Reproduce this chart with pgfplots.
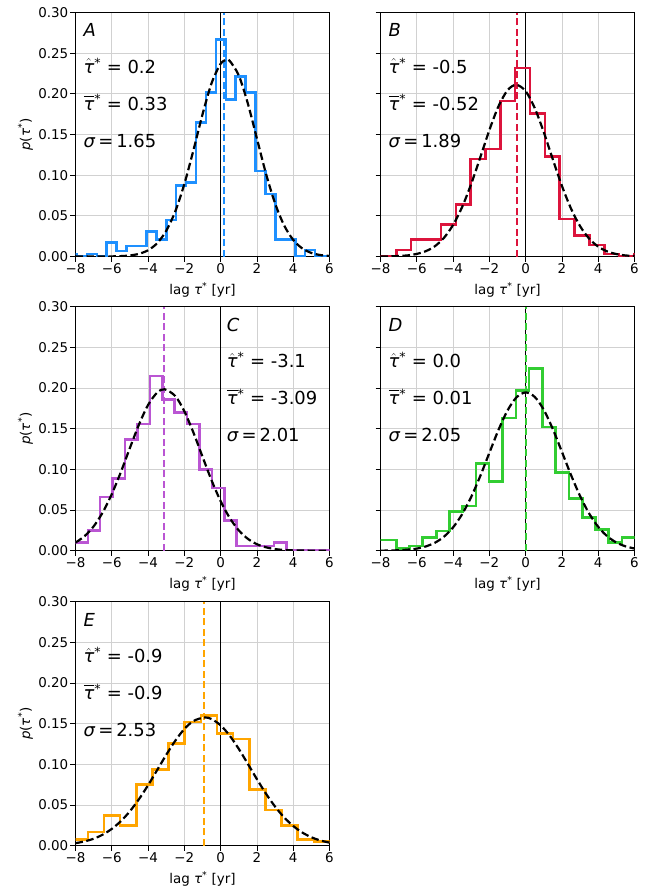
\documentclass[border=0pt]{standalone}
\usepackage{fontspec}
\setmainfont{DejaVu Sans}
\usepackage{pgfplots}
\pgfplotsset{compat=1.18}

\definecolor{cA}{RGB}{30,144,255}
\definecolor{cB}{RGB}{220,20,60}
\definecolor{cC}{RGB}{186,85,211}
\definecolor{cD}{RGB}{50,205,50}
\definecolor{cE}{RGB}{255,165,0}

\newcommand{\tickfont}{\fontsize{13.5}{15}\selectfont}
\newcommand{\annfont}{\fontsize{18}{20}\selectfont}
\newcommand{\tauit}{\textit{τ}}
\newcommand{\that}{$\hat{\mbox{\tauit}}$\textsuperscript{*}}
\newcommand{\tbar}{\makebox[0pt][l]{\hspace{0.02em}\rule[0.74em]{0.58em}{0.065em}}\tauit\textsuperscript{*}}

\tikzset{ann/.style={anchor=base west, inner sep=0pt, font=\annfont}}

\pgfplotsset{
 panel/.style={
  scale only axis, width=254bp, height=244bp, anchor=north west,
  xmin=-8, xmax=6, ymin=0, ymax=0.3,
  xtick={-8,-6,-4,-2,0,2,4,6},
  xticklabels={−8,−6,−4,−2,0,2,4,6},
  ytick={0,0.05,0.1,0.15,0.2,0.25,0.3},
  yticklabels={0.00,0.05,0.10,0.15,0.20,0.25,0.30},
  tick align=outside, tick pos=left,
  major tick length=5bp,
  every tick/.style={black, line width=0.8bp},
  grid=major, major grid style={line width=0.8bp, color=black!18},
  axis line style={line width=0.9bp},
  tick label style={font=\tickfont, inner sep=2bp},
  xlabel={lag \tauit\textsuperscript{*}\ [yr]},
  every axis x label/.style={at={(axis description cs:0.5,-0.137)}, anchor=center, font=\tickfont},
  every axis y label/.style={at={(axis description cs:-0.197,0.5)}, rotate=90, anchor=center, font=\tickfont},
 },
 hist/.style={const plot, line width=2.6bp, no marks},
 gauss/.style={smooth, black, line width=2.2bp, dash pattern=on 7.5bp off 3.5bp, no marks},
 vzero/.style={black, line width=1.3bp, no marks},
 vdash/.style={line width=2.1bp, dash pattern=on 7bp off 3.5bp, no marks},
}

\begin{document}
\begin{tikzpicture}
\path[use as bounding box] (0,0) rectangle (660bp,-892bp);

% ---------------- A ----------------
\begin{axis}[panel, at={(75.5bp,-12.5bp)}, ylabel={\textit{p}(\tauit\textsuperscript{*})}]
\addplot[vzero] coordinates {(0,0) (0,0.3)};
\addplot[hist, cA] coordinates {(-8.46,0.003) (-7.92,0) (-7.37,0.003) (-6.82,0) (-6.28,0.017) (-5.73,0.007) (-5.18,0.013) (-4.63,0.013) (-4.09,0.031) (-3.54,0.021) (-2.99,0.045) (-2.45,0.087) (-1.90,0.091) (-1.35,0.165) (-0.81,0.202) (-0.26,0.267) (0.29,0.193) (0.83,0.221) (1.38,0.202) (1.93,0.105) (2.47,0.077) (3.02,0.021) (3.57,0.021) (4.11,0) (4.66,0.008) (5.21,0) (5.75,0) (6.3,0)};
\addplot[vdash, cA] coordinates {(0.2,0) (0.2,0.3)};
\addplot[gauss] coordinates {(-8,0) (-7.5,0) (-7,0.00001) (-6.5,0.00005) (-6,0.00015) (-5.5,0.00047) (-5,0.0013) (-4.5,0.0033) (-4,0.0077) (-3.5,0.0163) (-3,0.0316) (-2.5,0.0555) (-2,0.0892) (-1.5,0.1307) (-1,0.1747) (-0.5,0.2131) (0,0.2370) (0.33,0.2418) (0.5,0.2405) (1,0.2227) (1.5,0.1880) (2,0.1449) (2.5,0.1018) (3,0.0653) (3.5,0.0382) (4,0.0204) (4.5,0.0099) (5,0.0044) (5.5,0.0018) (6,0.0007)};
\node[ann] at (axis cs:-7.57,0.270) {\textit{A}};
\node[ann] at (axis cs:-7.57,0.2253) {\that\ = 0.2};
\node[ann] at (axis cs:-7.57,0.180) {\tbar\ = 0.33};
\node[ann] at (axis cs:-7.57,0.1338) {\textit{σ}\,=\,1.65};
\end{axis}

% ---------------- B ----------------
\begin{axis}[panel, at={(380.5bp,-12.5bp)}, yticklabels={}]
\addplot[vzero] coordinates {(0,0) (0,0.3)};
\addplot[hist, cB] coordinates {(-8.77,0) (-7.95,0) (-7.13,0.008) (-6.31,0.021) (-5.49,0.021) (-4.67,0.039) (-3.85,0.064) (-3.04,0.120) (-2.22,0.132) (-1.40,0.191) (-0.58,0.232) (0.24,0.176) (1.06,0.123) (1.88,0.046) (2.70,0.026) (3.52,0.014) (4.33,0.003) (5.15,0) (5.97,0.003) (6.79,0.003)};
\addplot[vdash, cB] coordinates {(-0.5,0) (-0.5,0.3)};
\addplot[gauss] coordinates {(-8,0.0001) (-7.5,0.0002) (-7,0.0006) (-6.5,0.0014) (-6,0.0032) (-5.5,0.0066) (-5,0.0127) (-4.5,0.0230) (-4,0.0388) (-3.5,0.0609) (-3,0.0893) (-2.5,0.1220) (-2,0.1554) (-1.5,0.1846) (-1,0.2044) (-0.52,0.2111) (0,0.2033) (0.5,0.1825) (1,0.1528) (1.5,0.1192) (2,0.0868) (2.5,0.0589) (3,0.0373) (3.5,0.0220) (4,0.0121) (4.5,0.0062) (5,0.0030) (5.5,0.0013) (6,0.0006)};
\node[ann] at (axis cs:-7.57,0.270) {\textit{B}};
\node[ann] at (axis cs:-7.57,0.2253) {\that\ = -0.5};
\node[ann] at (axis cs:-7.57,0.180) {\tbar\ = -0.52};
\node[ann] at (axis cs:-7.57,0.1338) {\textit{σ}\,=\,1.89};
\end{axis}

% ---------------- C ----------------
\begin{axis}[panel, at={(75.5bp,-306.7bp)}, ylabel={\textit{p}(\tauit\textsuperscript{*})}]
\addplot[vzero] coordinates {(0,0) (0,0.3)};
\addplot[hist, cC] coordinates {(-8.6,0.010) (-7.32,0.025) (-6.64,0.066) (-5.95,0.089) (-5.27,0.137) (-4.58,0.156) (-3.90,0.215) (-3.19,0.186) (-2.53,0.170) (-1.85,0.156) (-1.16,0.100) (-0.48,0.077) (0.20,0.037) (0.89,0.006) (1.57,0.006) (2.26,0.006) (2.94,0.010) (3.62,0) (6.5,0)};
\addplot[vdash, cC] coordinates {(-3.1,0) (-3.1,0.3)};
\addplot[gauss] coordinates {(-8,0.0100) (-7.5,0.0179) (-7,0.0299) (-6.5,0.0471) (-6,0.0696) (-5.5,0.0967) (-5,0.1264) (-4.5,0.1552) (-4,0.1792) (-3.5,0.1944) (-3.09,0.1985) (-2.5,0.1901) (-2,0.1714) (-1.5,0.1452) (-1,0.1156) (-0.5,0.0865) (0,0.0609) (0.5,0.0403) (1,0.0250) (1.5,0.0146) (2,0.0080) (2.5,0.0042) (3,0.0020) (3.5,0.0009) (4,0.0004) (4.5,0.0002) (5,0.0001) (5.5,0) (6,0)};
\node[ann] at (axis cs:0.33,0.270) {\textit{C}};
\node[ann] at (axis cs:0.33,0.2253) {\that\ = -3.1};
\node[ann] at (axis cs:0.33,0.180) {\tbar\ = -3.09};
\node[ann] at (axis cs:0.33,0.1338) {\textit{σ}\,=\,2.01};
\end{axis}

% ---------------- D ----------------
\begin{axis}[panel, at={(380.5bp,-306.7bp)}, yticklabels={}]
\addplot[vzero] coordinates {(0,0) (0,0.3)};
\addplot[hist, cD] coordinates {(-8.6,0.013) (-7.13,0.003) (-6.40,0.006) (-5.67,0.016) (-4.93,0.024) (-4.20,0.048) (-3.47,0.055) (-2.74,0.107) (-2.01,0.085) (-1.27,0.163) (-0.54,0.197) (0.19,0.224) (0.92,0.152) (1.65,0.096) (2.39,0.064) (3.12,0.041) (3.85,0.026) (4.58,0.010) (5.31,0.016) (6.5,0.016)};
\addplot[vdash, cD] coordinates {(0,0) (0,0.3)};
\addplot[gauss] coordinates {(-8,0.0001) (-7.5,0.0002) (-7,0.0006) (-6.5,0.0013) (-6,0.0026) (-5.5,0.0053) (-5,0.0098) (-4.5,0.0173) (-4,0.0287) (-3.5,0.0449) (-3,0.0662) (-2.5,0.0919) (-2,0.1203) (-1.5,0.1484) (-1,0.1724) (-0.5,0.1887) (0,0.1946) (0.5,0.1891) (1,0.1732) (1.5,0.1494) (2,0.1215) (2.5,0.0931) (3,0.0672) (3.5,0.0457) (4,0.0293) (4.5,0.0177) (5,0.0101) (5.5,0.0054) (6,0.0027)};
\node[ann] at (axis cs:-7.57,0.270) {\textit{D}};
\node[ann] at (axis cs:-7.57,0.2253) {\that\ = 0.0};
\node[ann] at (axis cs:-7.57,0.180) {\tbar\ = 0.01};
\node[ann] at (axis cs:-7.57,0.1338) {\textit{σ}\,=\,2.05};
\end{axis}

% ---------------- E ----------------
\begin{axis}[panel, at={(75.5bp,-601.7bp)}, ylabel={\textit{p}(\tauit\textsuperscript{*})}]
\addplot[vzero] coordinates {(0,0) (0,0.3)};
\addplot[hist, cE] coordinates {(-8.6,0.008) (-7.32,0.017) (-6.43,0.037) (-5.54,0.025) (-4.65,0.075) (-3.76,0.094) (-2.87,0.126) (-1.98,0.152) (-1.09,0.160) (-0.20,0.138) (0.69,0.131) (1.58,0.069) (2.47,0.044) (3.36,0.025) (4.25,0.008) (5.14,0.005) (6.5,0.005)};
\addplot[vdash, cE] coordinates {(-0.9,0) (-0.9,0.3)};
\addplot[gauss] coordinates {(-8,0.0031) (-7.5,0.0053) (-7,0.0086) (-6.5,0.0136) (-6,0.0207) (-5.5,0.0302) (-5,0.0424) (-4.5,0.0573) (-4,0.0744) (-3.5,0.0930) (-3,0.1117) (-2.5,0.1291) (-2,0.1435) (-1.5,0.1533) (-0.9,0.1577) (-0.5,0.1557) (0,0.1480) (0.5,0.1353) (1,0.1190) (1.5,0.1006) (2,0.0818) (2.5,0.0639) (3,0.0481) (3.5,0.0348) (4,0.0242) (4.5,0.0162) (5,0.0104) (5.5,0.0064) (6,0.0038)};
\node[ann] at (axis cs:-7.57,0.270) {\textit{E}};
\node[ann] at (axis cs:-7.57,0.2253) {\that\ = -0.9};
\node[ann] at (axis cs:-7.57,0.180) {\tbar\ = -0.9};
\node[ann] at (axis cs:-7.57,0.1338) {\textit{σ}\,=\,2.53};
\end{axis}
\end{tikzpicture}
\end{document}
